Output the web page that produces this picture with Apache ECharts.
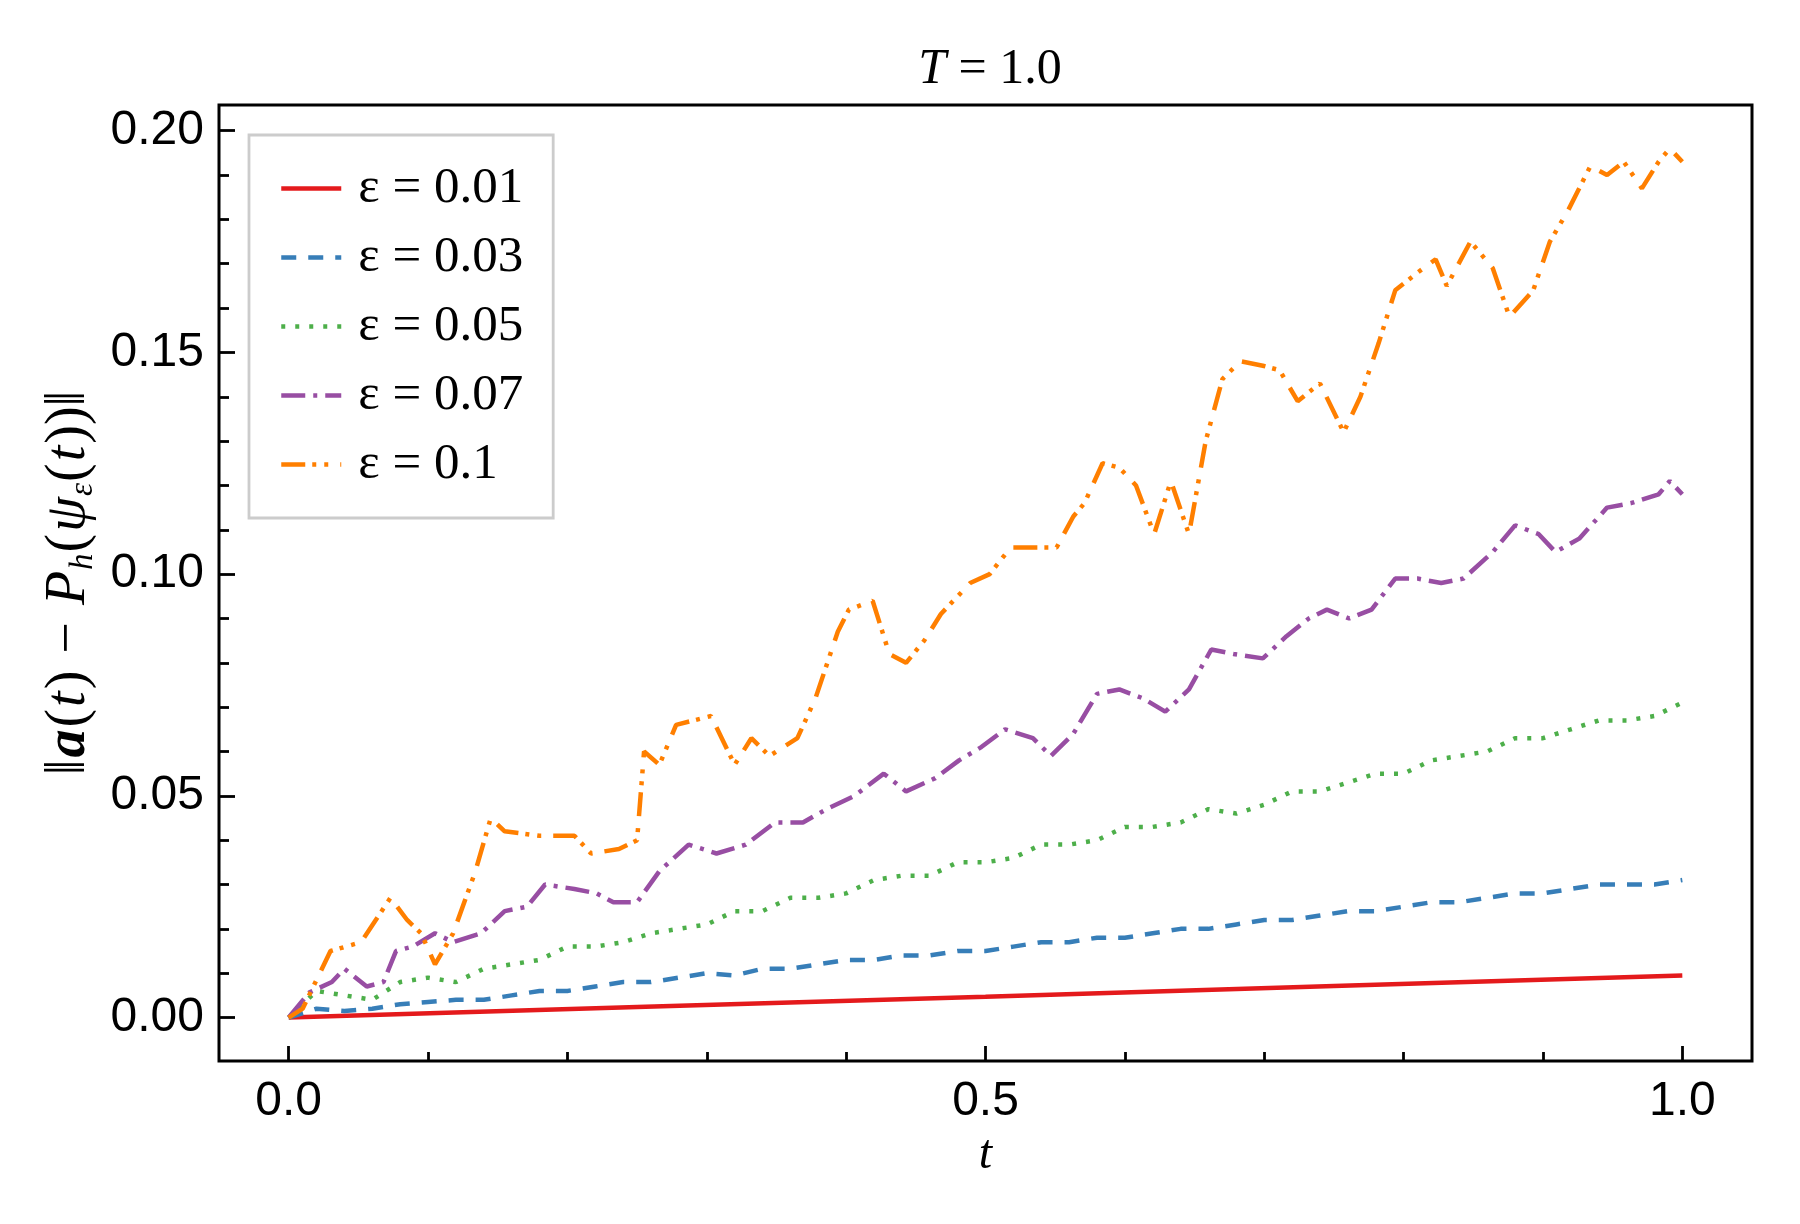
<!DOCTYPE html>
<html>
<head>
<meta charset="utf-8">
<script src="https://cdn.jsdelivr.net/npm/echarts@6/dist/echarts.min.js"></script>
<style>html,body{margin:0;padding:0;background:#fff;}#c{width:1800px;height:1224px;}</style>
</head>
<body>
<div id="c"></div>
<script>
// ---- data ----
const legendLabels = ['0.01', '0.03', '0.05', '0.07', '0.1'];
const xMajorTicks = [0, 0.5, 1.0];
const xMinorTicks = [0.1, 0.2, 0.3, 0.4, 0.6, 0.7, 0.8, 0.9];
const yMajorTicks = [0, 0.05, 0.10, 0.15, 0.20];
const yMinorTicks = [0.01,0.02,0.03,0.04,0.06,0.07,0.08,0.09,0.11,0.12,0.13,0.14,0.16,0.17,0.18,0.19];

const tRed = [0, 0.25, 0.5, 0.75, 1.0];
const yRed = [0, 0.0024, 0.0047, 0.0071, 0.0095];

const tBlue = [0,0.02,0.04,0.06,0.08,0.10,0.12,0.14,0.16,0.18,0.20,0.22,0.24,0.26,0.28,0.30,0.32,0.34,0.36,0.38,0.40,0.42,0.44,0.46,0.48,0.50,0.52,0.54,0.56,0.58,0.60,0.62,0.64,0.66,0.68,0.70,0.72,0.74,0.76,0.78,0.80,0.82,0.84,0.86,0.88,0.90,0.92,0.94,0.96,0.98,1.0];
const yBlue = [0,0.002,0.0015,0.002,0.003,0.0035,0.004,0.004,0.005,0.006,0.006,0.007,0.008,0.008,0.009,0.010,0.0095,0.011,0.011,0.012,0.013,0.013,0.014,0.014,0.015,0.015,0.016,0.017,0.017,0.018,0.018,0.019,0.020,0.020,0.021,0.022,0.022,0.023,0.024,0.024,0.025,0.026,0.026,0.027,0.028,0.028,0.029,0.030,0.030,0.030,0.031];

const tGreen = tBlue;
const yGreen = [0,0.006,0.005,0.004,0.008,0.009,0.008,0.011,0.012,0.013,0.016,0.016,0.017,0.019,0.020,0.021,0.024,0.024,0.027,0.027,0.028,0.031,0.032,0.032,0.035,0.035,0.036,0.039,0.039,0.040,0.043,0.043,0.044,0.047,0.046,0.048,0.051,0.051,0.053,0.055,0.055,0.058,0.059,0.060,0.063,0.063,0.065,0.067,0.067,0.068,0.071];

const tPurple = [0,0.015,0.031,0.040,0.056,0.068,0.077,0.089,0.105,0.118,0.138,0.155,0.171,0.184,0.205,0.221,0.233,0.250,0.266,0.287,0.307,0.328,0.349,0.369,0.386,0.406,0.427,0.443,0.464,0.481,0.497,0.514,0.534,0.547,0.563,0.580,0.596,0.613,0.629,0.646,0.662,0.678,0.699,0.716,0.732,0.745,0.761,0.777,0.794,0.810,0.827,0.843,0.864,0.880,0.897,0.909,0.926,0.946,0.963,0.983,0.991,1.0];
const yPurple = [0,0.0057,0.008,0.011,0.007,0.008,0.015,0.016,0.019,0.017,0.019,0.024,0.025,0.030,0.029,0.028,0.026,0.026,0.033,0.039,0.037,0.039,0.044,0.044,0.047,0.050,0.055,0.051,0.054,0.058,0.061,0.065,0.063,0.059,0.064,0.073,0.074,0.072,0.069,0.074,0.083,0.082,0.081,0.086,0.090,0.092,0.090,0.092,0.099,0.099,0.098,0.099,0.105,0.111,0.109,0.105,0.108,0.115,0.116,0.118,0.121,0.118];

const tOrange = [0,0.010,0.030,0.052,0.073,0.085,0.095,0.105,0.118,0.134,0.145,0.155,0.180,0.205,0.217,0.237,0.250,0.255,0.266,0.278,0.303,0.320,0.332,0.345,0.365,0.378,0.394,0.402,0.419,0.431,0.443,0.456,0.468,0.489,0.503,0.518,0.534,0.551,0.563,0.571,0.584,0.596,0.608,0.621,0.633,0.646,0.658,0.670,0.683,0.699,0.711,0.724,0.740,0.757,0.769,0.782,0.794,0.810,0.823,0.831,0.848,0.864,0.876,0.893,0.905,0.918,0.934,0.946,0.958,0.971,0.983,0.991,1.0];
const yOrange = [0,0.002,0.015,0.017,0.027,0.022,0.019,0.012,0.019,0.033,0.045,0.042,0.041,0.041,0.037,0.038,0.040,0.060,0.057,0.066,0.068,0.057,0.063,0.059,0.063,0.072,0.087,0.092,0.094,0.082,0.080,0.085,0.091,0.098,0.100,0.106,0.106,0.106,0.113,0.116,0.125,0.124,0.120,0.109,0.121,0.109,0.130,0.144,0.148,0.147,0.146,0.139,0.143,0.132,0.140,0.152,0.164,0.168,0.171,0.165,0.175,0.169,0.158,0.164,0.175,0.182,0.192,0.190,0.193,0.187,0.193,0.196,0.193];

const colors = ['#e41a1c', '#377eb8', '#4daf4a', '#984ea3', '#ff7f00'];
const dashes = ['solid', [15, 12], [4, 10], [24, 8, 4, 8], [24, 7, 4, 8, 4, 12]];

// ---- chart ----
function pairs(t, y) { return t.map((v, i) => [v, y[i]]); }
const seriesT = [tRed, tBlue, tGreen, tPurple, tOrange];
const seriesY = [yRed, yBlue, yGreen, yPurple, yOrange];

const SERIF = '"Liberation Serif", "DejaVu Serif", serif';
const SANS = '"Liberation Sans", Arial, sans-serif';
const XMIN = -0.05, XMAX = 1.05, YMIN = -0.0098, YMAX = 0.2058;
const LW = 4.5;

const chart = echarts.init(document.getElementById('c'), null, {renderer: 'canvas'});

const series = legendLabels.map((lab, i) => ({
  name: lab,
  type: 'line',
  xAxisIndex: 0,
  yAxisIndex: 0,
  data: pairs(seriesT[i], seriesY[i]),
  showSymbol: false,
  symbol: 'none',
  smooth: false,
  z: 2 + i,
  lineStyle: { color: colors[i], width: LW, type: dashes[i], cap: 'butt' },
  itemStyle: { color: colors[i] }
}));

const axisBaseX = (ticks, len, showLabel) => ({
  type: 'value', min: XMIN, max: XMAX, position: 'bottom', gridIndex: 0,
  axisLine: { show: false, onZero: false },
  splitLine: { show: false },
  axisTick: { show: true, inside: true, length: len, customValues: ticks, lineStyle: { color: '#000', width: 2.8 } },
  axisLabel: showLabel ? { show: true, customValues: ticks, margin: 17, fontFamily: SANS, fontSize: 48, color: '#000', formatter: v => v.toFixed(1) } : { show: false }
});
const axisBaseY = (ticks, len, showLabel) => ({
  type: 'value', min: YMIN, max: YMAX, position: 'left', gridIndex: 0,
  axisLine: { show: false, onZero: false },
  splitLine: { show: false },
  axisTick: { show: true, inside: true, length: len, customValues: ticks, lineStyle: { color: '#000', width: 2.8 } },
  axisLabel: showLabel ? { show: true, customValues: ticks, margin: 15, fontFamily: SANS, fontSize: 48, color: '#000', formatter: v => v.toFixed(2) } : { show: false }
});

const xMain = axisBaseX(xMajorTicks, 15, true);
xMain.name = '{i|t}';
xMain.nameLocation = 'middle';
xMain.nameGap = 70;
xMain.nameTextStyle = { rich: { i: { fontFamily: SERIF, fontStyle: 'italic', fontSize: 48, color: '#000' } } };

const yMain = axisBaseY(yMajorTicks, 16, true);
yMain.name = '{n|‖}{b|a}{n|(}{i|t}{n|)}{m|−}{i|P}{s|h}{n|(}{i|ψ}{s|ε}{n|(}{i|t}{n|))‖}';
yMain.nameLocation = 'middle';
yMain.nameRotate = 90;
yMain.nameGap = 112;
yMain.nameTextStyle = {
  rich: {
    n: { fontFamily: SERIF, fontSize: 56, color: '#000', lineHeight: 60, padding: [0, 1, 0, 1] },
    m: { fontFamily: SERIF, fontSize: 56, color: '#000', lineHeight: 60, padding: [0, 16, 0, 16] },
    i: { fontFamily: SERIF, fontStyle: 'italic', fontSize: 56, color: '#000', lineHeight: 60, padding: [0, 1, 0, 1] },
    b: { fontFamily: SERIF, fontStyle: 'italic', fontWeight: 'bold', fontSize: 56, color: '#000', lineHeight: 60, padding: [0, 1, 0, 1] },
    s: { fontFamily: SERIF, fontStyle: 'italic', fontSize: 33, color: '#000', lineHeight: 33, verticalAlign: 'bottom' }
  }
};

const option = {
  animation: false,
  backgroundColor: '#fff',
  title: {
    text: '{i|T}{n| = 1.0}',
    left: 985, top: 40, textAlign: 'center',
    textStyle: { fontWeight: 'normal', rich: {
      i: { fontFamily: SERIF, fontStyle: 'italic', fontWeight: 'normal', fontSize: 50, color: '#000' },
      n: { fontFamily: SERIF, fontWeight: 'normal', fontSize: 50, color: '#000' }
    } }
  },
  grid: { left: 219, right: 48, top: 105, bottom: 163, show: true, borderColor: '#000', borderWidth: 3, backgroundColor: 'transparent' },
  legend: {
    orient: 'vertical',
    left: 249, top: 135,
    padding: [28, 30, 28, 30],
    itemWidth: 60, itemHeight: 20,
    itemGap: 18,
    borderColor: '#cccccc', borderWidth: 2.8, borderRadius: 0,
    backgroundColor: 'rgba(255,255,255,0.8)',
    itemStyle: { opacity: 0 },
    lineStyle: { width: LW },
    data: legendLabels,
    formatter: name => '{i|ε}{n| = ' + name + '}',
    textStyle: { padding: [0, 0, 0, 12], rich: {
      i: { fontFamily: SERIF, fontSize: 51, color: '#000', lineHeight: 49 },
      n: { fontFamily: SERIF, fontSize: 51, color: '#000', lineHeight: 49 }
    } }
  },
  xAxis: [xMain, axisBaseX(xMinorTicks, 9, false)],
  yAxis: [yMain, axisBaseY(yMinorTicks, 10, false)],
  series: series
};
chart.setOption(option);
</script>
</body>
</html>
